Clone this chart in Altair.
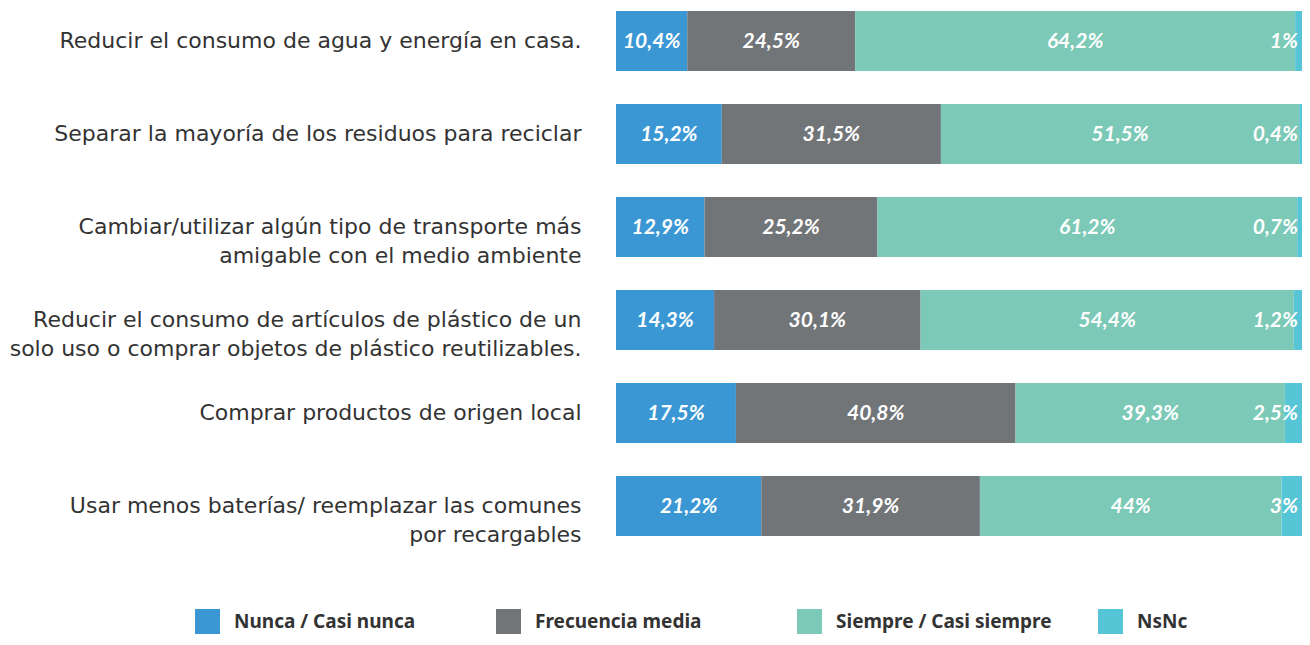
import altair as alt
import pandas as pd

items = [
    "Reducir el consumo de agua y energía en casa.",
    "Separar la mayoría de los residuos para reciclar",
    "Cambiar/utilizar algún tipo de transporte más|amigable con el medio ambiente",
    "Reducir el consumo de artículos de plástico de un|solo uso o comprar objetos de plástico reutilizables.",
    "Comprar productos de origen local",
    "Usar menos baterías/ reemplazar las comunes|por recargables",
]
series = ["Nunca / Casi nunca", "Frecuencia media", "Siempre / Casi siempre", "NsNc"]
nunca = [10.4, 15.2, 12.9, 14.3, 17.5, 21.2]
media = [24.5, 31.5, 25.2, 30.1, 40.8, 31.9]
siempre = [64.2, 51.5, 61.2, 54.4, 39.3, 44]
nsnc = [1, 0.4, 0.7, 1.2, 2.5, 3]
colors = ["#3a97d4", "#727578", "#7bc9b6", "#56c5d5"]


def fmt(v):
    return f"{v:g}".replace(".", ",") + "%"


rows = []
for i, it in enumerate(items):
    for j, (s, vals) in enumerate(zip(series, [nunca, media, siempre, nsnc])):
        v = vals[i]
        rows.append({"item": it, "serie": s, "order": j, "value": v, "label": fmt(v)})
df = pd.DataFrame(rows)

base = alt.Chart(df).transform_stack(
    stack="value",
    groupby=["item"],
    as_=["x0", "x1"],
    offset="normalize",
    sort=[alt.SortField("order", order="ascending")],
).transform_calculate(mid="(datum.x0 + datum.x1) / 2")

y = alt.Y(
    "item:N",
    sort=items,
    title=None,
    scale=alt.Scale(paddingInner=0.355, paddingOuter=0),
    axis=alt.Axis(
        labelExpr="split(datum.label, '|')",
        labelFont="DejaVu Sans",
        labelFontSize=22,
        labelColor="#333333",
        labelPadding=35,
        labelLineHeight=29,
        labelLimit=800,
        ticks=False,
        domain=False,
    ),
)
xs = alt.Scale(domain=[0, 1])

bars = base.mark_bar().encode(
    x=alt.X("x0:Q", scale=xs, axis=None),
    x2="x1:Q",
    y=y,
    color=alt.Color(
        "serie:N",
        scale=alt.Scale(domain=series, range=colors),
        legend=alt.Legend(
            title=None,
            orient="none",
            legendX=-421,
            legendY=598,
            direction="horizontal",
            columns=4,
            symbolType="square",
            symbolSize=625,
            symbolStrokeWidth=0,
            symbolOpacity=1,
            labelFont="Noto Sans",
            labelFontSize=19,
            labelFontWeight="bold",
            labelColor="#333333",
            labelOffset=14,
            labelLimit=400,
            gridAlign="all",
            columnPadding=46,
        ),
    ),
)

txt_kw = dict(color="white", font="Lato", fontSize=21, fontWeight="bold", fontStyle="italic", dy=1)
text_main = base.transform_filter("datum.serie != 'NsNc'").mark_text(**txt_kw).encode(
    x=alt.X("mid:Q", scale=xs, axis=None), y=y, text="label:N"
)
text_ns = base.transform_filter("datum.serie == 'NsNc'").mark_text(align="right", dx=-4, **txt_kw).encode(
    x=alt.X("x1:Q", scale=xs, axis=None), y=y, text="label:N"
)

chart = (
    alt.layer(bars, text_main, text_ns)
    .properties(
        width=686,
        height=525,
        padding={"left": 608, "top": 3, "right": 0, "bottom": 101},
        autosize="none",
    )
    .configure_view(stroke=None)
)

chart.save("out.html", embed_options={"renderer": "svg", "actions": False})
